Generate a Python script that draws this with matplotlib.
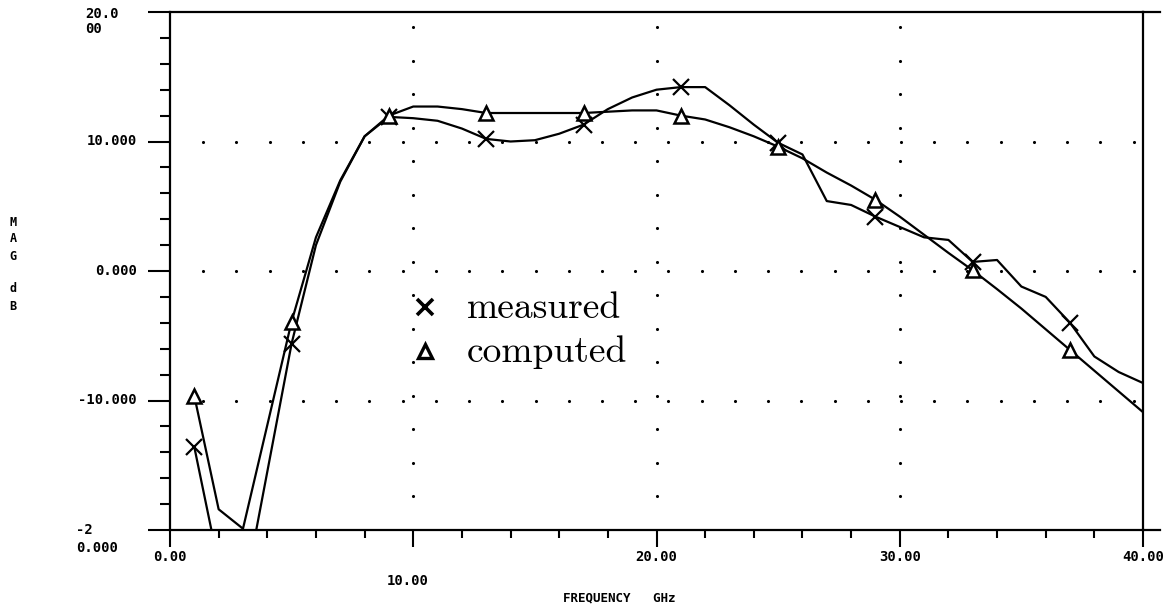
import matplotlib
matplotlib.use("Agg")
import matplotlib.pyplot as plt
import numpy as np

# ---- data ----
freq = list(range(1, 41))
measured = [-13.6, -22.7, -25.4, -15.5, -5.6, 2.0, 6.9, 10.4, 11.9, 11.8,
            11.6, 11.0, 10.2, 10.0, 10.1, 10.6, 11.3, 12.5, 13.4, 14.0,
            14.2, 14.2, 12.8, 11.3, 9.9, 9.0, 5.4, 5.1, 4.2, 3.4,
            2.6, 2.4, 0.7, 0.85, -1.2, -2.0, -4.0, -6.6, -7.8, -8.65]
computed = [-9.65, -18.4, -19.9, -11.9, -3.9, 2.6, 7.0, 10.4, 12.0, 12.7,
            12.7, 12.5, 12.2, 12.2, 12.2, 12.2, 12.2, 12.3, 12.4, 12.4,
            12.0, 11.7, 11.1, 10.4, 9.6, 8.7, 7.6, 6.6, 5.5, 4.2,
            2.8, 1.4, 0.05, -1.4, -2.9, -4.5, -6.1, -7.7, -9.3, -10.9]
x_major = [0, 10, 20, 30, 40]
x_labels = ["0.00", "10.00", "20.00", "30.00", "40.00"]
y_major = [-20, -10, 0, 10, 20]

W, H = 1171, 612
fig = plt.figure(figsize=(W / 100, H / 100), dpi=100)
L, R, T, B = 170, 1143, 12, 530
ax = fig.add_axes([L / W, 1 - B / H, (R - L) / W, (B - T) / H])
ax.set_xlim(0, 40)
ax.set_ylim(-20, 20)

for s in ax.spines.values():
    s.set_linewidth(1.6)
    s.set_color("black")

ax.set_xticks(x_major)
ax.set_xticks(np.arange(0, 41, 2), minor=True)
ax.set_yticks(y_major)
ax.set_yticks(np.arange(-20, 21, 2), minor=True)
ax.set_xticklabels([])
ax.set_yticklabels([])
ax.tick_params(axis="y", which="major", direction="out", length=15.5, width=1.5)
ax.tick_params(axis="y", which="minor", direction="out", length=7, width=1.5)
ax.tick_params(axis="x", which="major", direction="out", length=12, width=1.5)
ax.tick_params(axis="x", which="minor", direction="out", length=6, width=1.5)

# extended frame lines to the right
for yv in (20, -20):
    ax.plot([40, 40.7], [yv, yv], color="black", lw=1.6, clip_on=False)

# dotted grid (plotter style)
dx = 1.366
dy = 2.587
xs = np.arange(dx, 40, dx)
for yv in (-10, 0, 10):
    ax.scatter(xs, np.full_like(xs, yv), s=5, color="black", lw=0, zorder=1)
ys = np.arange(-20 + dy, 20, dy)
for xv in (10, 20, 30):
    ax.scatter(np.full_like(ys, xv), ys, s=5, color="black", lw=0, zorder=1)

# curves
ax.plot(freq, measured, color="black", lw=1.6, marker="x", markevery=(0, 4),
        markersize=11, markeredgewidth=1.6, zorder=3)
ax.plot(freq, computed, color="black", lw=1.6, marker="^", markevery=(0, 4),
        markersize=10, markeredgewidth=1.8, markerfacecolor="white", zorder=3)

# legend (manual)
fig.add_artist(plt.Line2D([425 / W], [1 - 307 / H], marker="x", color="black",
                          markersize=11, markeredgewidth=2.6, transform=fig.transFigure))
fig.add_artist(plt.Line2D([425 / W], [1 - 351 / H], marker="^", color="black",
                          markersize=10, markeredgewidth=2.4, markerfacecolor="white",
                          transform=fig.transFigure))
fig.text(467 / W, 1 - 318 / H, "measured", fontname="cmr10", fontsize=27,
         ha="left", va="baseline")
fig.text(467 / W, 1 - 362 / H, "computed", fontname="cmr10", fontsize=27,
         ha="left", va="baseline")

# tick labels (plotter style)
tk = dict(family="DejaVu Sans Mono", fontweight="bold", fontsize=10)
fig.text(137 / W, 1 - 141 / H, "10.000", ha="right", va="center", **tk)
fig.text(137 / W, 1 - 271 / H, "0.000", ha="right", va="center", **tk)
fig.text(137 / W, 1 - 400 / H, "-10.000", ha="right", va="center", **tk)
fig.text(85 / W, 1 - 14 / H, "20.0", ha="left", va="center", **tk)
fig.text(85 / W, 1 - 29 / H, "00", ha="left", va="center", **tk)
fig.text(76 / W, 1 - 530 / H, "-2", ha="left", va="center", **tk)
fig.text(76 / W, 1 - 548 / H, "0.000", ha="left", va="center", **tk)

label_y = [557, 581, 557, 557, 557]
for xv, lab, py in zip(x_major, x_labels, label_y):
    px = L + (R - L) * xv / 40
    if xv == 10:
        px = 408
    fig.text(px / W, 1 - py / H, lab, ha="center", va="center", **tk)

# axis labels
fig.text(619 / W, 1 - 598 / H, "FREQUENCY   GHz", ha="center", va="center",
         family="DejaVu Sans Mono", fontweight="bold", fontsize=9)
for ch, py in zip("MAGdB", [222, 239, 256, 289, 306]):
    fig.text(13 / W, 1 - py / H, ch, ha="center", va="center",
             family="DejaVu Sans Mono", fontweight="bold", fontsize=8.5)

fig.savefig("out.png", dpi=100, facecolor="white")
